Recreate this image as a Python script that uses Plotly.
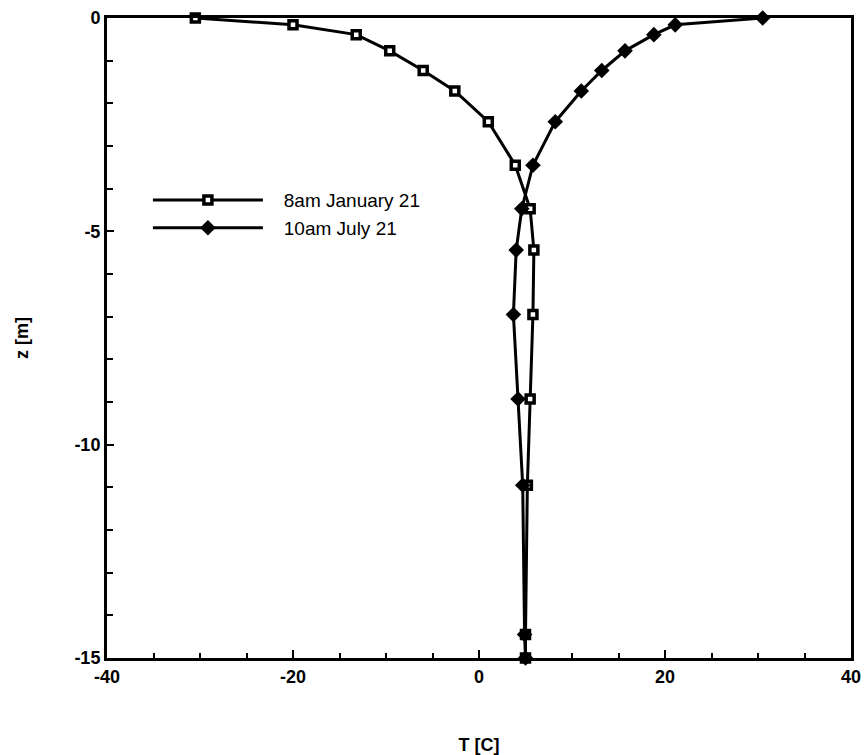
import plotly.graph_objects as go

depth = [0, -0.16, -0.39, -0.77, -1.23, -1.71, -2.43, -3.45, -4.47, -5.44, -6.95, -8.93, -10.95, -14.45, -15]
t_jan = [-30.5, -20.0, -13.2, -9.6, -6.0, -2.6, 1.0, 3.9, 5.5, 5.9, 5.8, 5.5, 5.2, 5.0, 5.0]
t_jul = [30.5, 21.1, 18.8, 15.7, 13.2, 11.0, 8.2, 5.8, 4.6, 4.0, 3.7, 4.2, 4.7, 4.9, 5.0]

x_ticks = [-40, -20, 0, 20, 40]
x_labels = ["-40", "-20", "0", "20", "40"]
y_ticks = [0, -5, -10, -15]
y_labels = ["0", "-5", "-10", "-15"]

fig = go.Figure()
fig.add_trace(go.Scatter(
    x=t_jan, y=depth, mode="lines+markers", name="\u00a0\u00a0\u00a08am January 21",
    line=dict(color="black", width=3),
    marker=dict(symbol="square", size=8, color="white", line=dict(color="black", width=3.5)),
    cliponaxis=False,
))
fig.add_trace(go.Scatter(
    x=t_jul, y=depth, mode="lines+markers", name="\u00a0\u00a0\u00a010am July 21",
    line=dict(color="black", width=3),
    marker=dict(symbol="diamond", size=12, color="black"),
    cliponaxis=False,
))

tick_font = dict(family="Liberation Sans", size=18, color="black", weight="bold")
title_font = dict(family="Liberation Sans", size=18, color="black", weight="bold")
axis_common = dict(
    showgrid=False, zeroline=False, showline=True, linecolor="black", linewidth=3,
    mirror=True, ticks="inside", tickcolor="black", tickwidth=2,
    tickfont=tick_font, automargin=False,
)
fig.update_xaxes(
    range=[-40, 40], tickvals=x_ticks, ticktext=x_labels, ticklen=8,
    minor=dict(dtick=5, ticks="inside", ticklen=5, tickcolor="black", tickwidth=2, showgrid=False),
    title=dict(text="T [C]", font=title_font, standoff=56),
    **axis_common,
)
fig.update_yaxes(
    range=[-15, 0], tickvals=y_ticks, ticktext=y_labels, ticklen=7,
    minor=dict(dtick=1, ticks="inside", ticklen=6, tickcolor="black", tickwidth=2, showgrid=False),
    title=dict(text="z [m]", font=title_font, standoff=42),
    **axis_common,
)
fig.update_layout(
    width=868, height=755,
    margin=dict(l=107, r=17, t=18, b=97),
    plot_bgcolor="white", paper_bgcolor="white",
    showlegend=True,
    legend=dict(x=0.055, y=0.745, xanchor="left", yanchor="top", bgcolor="rgba(0,0,0,0)",
                font=dict(family="Liberation Sans", size=19, color="black"),
                itemwidth=110, tracegroupgap=0),
)
fig.write_html("out.html")
